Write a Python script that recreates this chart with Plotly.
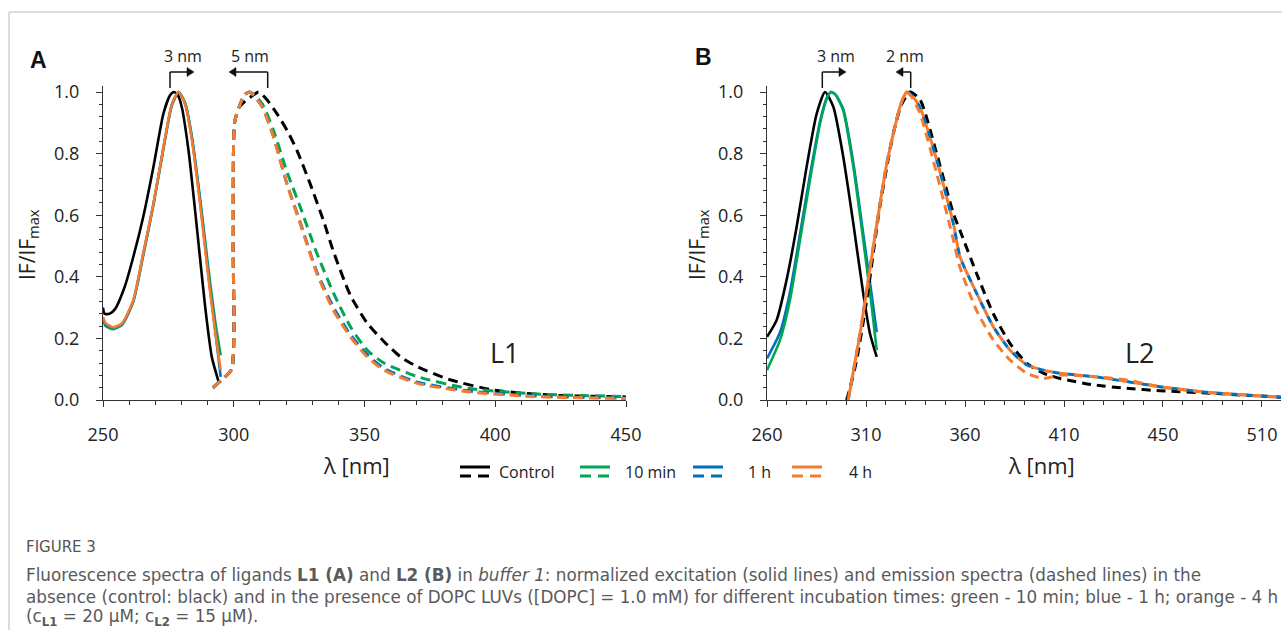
import plotly.graph_objects as go

# ---------------- data ----------------
# Panel A (L1) excitation, solid
A_ex_x = [250, 250.6, 252.5, 254.6, 258.4, 261.6, 265.4, 269.3, 273.1, 275.7, 277.2, 278.6, 280.1, 282.7, 285.9, 289.1, 291.6, 294.2]
A_ex_control = [0.30, 0.28, 0.28, 0.295, 0.37, 0.465, 0.595, 0.757, 0.93, 0.99, 1.0, 0.99, 0.952, 0.81, 0.56, 0.30, 0.14, 0.06]
A_ex2_x = [250, 251, 254, 257.4, 261.6, 265.4, 269.3, 273.1, 276.3, 278.9, 281.4, 284, 287.2, 290.4, 293, 295]
A_ex_10min = [0.26, 0.24, 0.23, 0.245, 0.32, 0.47, 0.635, 0.815, 0.955, 1.0, 0.965, 0.855, 0.65, 0.42, 0.25, 0.145]
A_ex_1h = [0.265, 0.245, 0.235, 0.248, 0.322, 0.474, 0.636, 0.818, 0.958, 1.0, 0.962, 0.85, 0.64, 0.40, 0.22, 0.075]
A_ex_4h = [0.27, 0.25, 0.236, 0.25, 0.325, 0.477, 0.638, 0.82, 0.96, 1.0, 0.96, 0.845, 0.63, 0.39, 0.216, 0.097]

# Panel A (L1) emission, dashed
A_em_ctrl_x = [292, 296, 299.2, 299.8, 300.3, 302, 305, 307.5, 309.5, 312.7, 316.5, 320.4, 324.2, 329.3, 334.4, 338.2, 344.6, 351, 357.4, 363.8, 370.2, 383, 399.5, 421, 450]
A_em_control = [0.04, 0.07, 0.10, 0.5, 0.90, 0.95, 0.975, 0.99, 1.0, 0.975, 0.93, 0.875, 0.81, 0.70, 0.58, 0.48, 0.34, 0.25, 0.19, 0.14, 0.108, 0.065, 0.032, 0.016, 0.01]
A_em_x = [292, 296, 299.2, 299.8, 300.3, 302, 304, 306, 308, 311, 315, 320.4, 325.5, 331.8, 338.2, 344.6, 351, 357.4, 370.2, 389.3, 414.8, 450]
A_em_10min = [0.04, 0.07, 0.10, 0.5, 0.90, 0.95, 0.99, 1.0, 0.99, 0.96, 0.88, 0.74, 0.625, 0.476, 0.346, 0.238, 0.162, 0.12, 0.076, 0.038, 0.02, 0.011]
A_em_1h = [0.04, 0.07, 0.10, 0.5, 0.90, 0.95, 0.99, 1.0, 0.985, 0.95, 0.86, 0.70, 0.575, 0.415, 0.30, 0.212, 0.148, 0.103, 0.058, 0.030, 0.013, 0.006]
A_em_4h = [0.04, 0.07, 0.10, 0.5, 0.90, 0.95, 0.99, 1.0, 0.985, 0.95, 0.86, 0.70, 0.57, 0.41, 0.29, 0.205, 0.14, 0.097, 0.054, 0.027, 0.011, 0.005]

# Panel B (L2) excitation, solid
B_ex_ctrl_x = [260, 264.9, 269.9, 275, 280, 285.1, 289.3, 293.5, 298.5, 303.6, 308.6, 312, 315.4]
B_ex_control = [0.205, 0.26, 0.39, 0.563, 0.757, 0.93, 1.0, 0.952, 0.79, 0.573, 0.346, 0.216, 0.14]
B_ex_x = [260, 266.6, 271.6, 276.7, 281.7, 286.8, 290, 292.3, 294.5, 298.5, 303.6, 308.6, 312.9, 315.4]
B_ex_10min = [0.097, 0.195, 0.325, 0.52, 0.714, 0.898, 0.975, 1.0, 0.992, 0.94, 0.757, 0.52, 0.303, 0.162]
B_ex_1h = [0.135, 0.22, 0.35, 0.54, 0.73, 0.905, 0.978, 1.0, 0.992, 0.945, 0.77, 0.54, 0.34, 0.22]

# Panel B (L2) emission, dashed
B_em_ctrl_x = [300.2, 302, 305.3, 310.4, 317, 323.8, 328, 332.2, 337.3, 345.7, 354.1, 357.5, 365.9, 374.3, 382.7, 391.2, 399.5, 408, 424.8, 441.7, 458.5, 483.7, 520]
B_em_control = [0.0, 0.04, 0.13, 0.325, 0.628, 0.866, 0.96, 1.0, 0.975, 0.80, 0.606, 0.55, 0.41, 0.28, 0.184, 0.119, 0.087, 0.07, 0.049, 0.038, 0.03, 0.022, 0.009]
B_em_x = [301, 307, 313.7, 320.5, 327.2, 330.5, 333, 337.3, 345.7, 354.1, 357.5, 365.9, 374.3, 382.7, 391.2, 399.5, 408, 424.8, 441.7, 458.5, 483.7, 520]
B_em_1h = [0.0, 0.216, 0.498, 0.768, 0.952, 1.0, 0.99, 0.95, 0.78, 0.573, 0.465, 0.346, 0.238, 0.162, 0.114, 0.097, 0.087, 0.076, 0.06, 0.043, 0.024, 0.009]
B_em_10min = [0.0, 0.216, 0.498, 0.768, 0.952, 1.0, 0.99, 0.95, 0.78, 0.573, 0.465, 0.346, 0.238, 0.162, 0.114, 0.097, 0.087, 0.076, 0.06, 0.043, 0.024, 0.009]
B_em_4h = [0.0, 0.216, 0.498, 0.768, 0.952, 1.0, 0.985, 0.93, 0.736, 0.52, 0.43, 0.29, 0.195, 0.13, 0.087, 0.07, 0.081, 0.076, 0.065, 0.043, 0.024, 0.009]

A_xticks = [250, 300, 350, 400, 450]
B_xticks = [260, 310, 360, 410, 460, 510]
B_xticktext = ["260", "310", "360", "410", "450", "510"]
y_ticks = [0.0, 0.2, 0.4, 0.6, 0.8, 1.0]
legend_names = ["Control", "10 min", "1 h", "4 h"]

# ---------------- styling ----------------
BLACK = "#000000"
GREEN = "#00A651"
BLUE = "#0070C0"
ORANGE = "#F47B30"
FONT = "Open Sans"
W, H = 1282, 630


def px(x):
    return x / W


def py(y):
    return 1 - y / H


fig = go.Figure()


def add(x, y, color, xa, ya, dash="solid", width=2.6):
    fig.add_trace(go.Scatter(x=x, y=y, mode="lines", xaxis=xa, yaxis=ya,
                             line=dict(color=color, width=width, dash=dash,
                                       shape="spline", smoothing=0.6),
                             showlegend=False, hoverinfo="skip"))


DA = "10px,6px"
DB = "9px,6px"
DB_off = "0px,7.5px,7.5px,0px"

# Panel A
add(A_ex_x, A_ex_control, BLACK, "x", "y")
add(A_ex2_x, A_ex_10min, GREEN, "x", "y")
add(A_ex2_x, A_ex_1h, BLUE, "x", "y")
add(A_ex2_x, A_ex_4h, ORANGE, "x", "y")
add(A_em_ctrl_x, A_em_control, BLACK, "x", "y", DA, 3)
add(A_em_x, A_em_10min, GREEN, "x", "y", DA, 3)
add(A_em_x, A_em_1h, BLUE, "x", "y", DA, 3)
add(A_em_x, A_em_4h, ORANGE, "x", "y", DA, 3)

# Panel B
add(B_ex_ctrl_x, B_ex_control, BLACK, "x2", "y2")
add(B_ex_x, B_ex_1h, BLUE, "x2", "y2")
add(B_ex_x, B_ex_10min, GREEN, "x2", "y2")
add(B_em_ctrl_x, B_em_control, BLACK, "x2", "y2", DB, 3)
add(B_em_x, B_em_1h, BLUE, "x2", "y2", "7.5px,7.5px", 3)
add(B_em_x, B_em_10min, ORANGE, "x2", "y2", DB_off, 3)
add(B_em_x, B_em_4h, ORANGE, "x2", "y2", DB, 3)

Y_TOP = 400 - 1.02 * 308
axis_common = dict(showgrid=False, zeroline=False, showline=True, linecolor="#333",
                   linewidth=1, ticks="outside", ticklen=6, tickwidth=1, tickcolor="#333",
                   automargin=False,
                   tickfont=dict(family=FONT, size=18, color="#222"))

fig.update_layout(
    width=W, height=H, margin=dict(l=0, r=0, t=0, b=0, pad=0, autoexpand=False),
    paper_bgcolor="white", plot_bgcolor="white",
    font=dict(family=FONT, color="#222"),
    xaxis=dict(domain=[px(103), px(626)], range=[250, 450], tickmode="array",
               tickvals=A_xticks, anchor="y", ticklabelstandoff=12,
               minor=dict(ticks="outside", ticklen=4, tickmode="linear", tick0=250, dtick=10,
                          tickcolor="#333", showgrid=False), **axis_common),
    yaxis=dict(domain=[py(400), py(Y_TOP)], range=[0, 1.02], tickmode="array",
               tickvals=y_ticks, ticktext=["%.1f" % v for v in y_ticks], anchor="x",
               ticklabelstandoff=13,
               minor=dict(ticks="outside", ticklen=3, tickmode="linear", tick0=0, dtick=0.04,
                          tickcolor="#333", showgrid=False), **axis_common),
    xaxis2=dict(domain=[px(767), px(1281)], range=[260, 519.6], tickmode="array",
                tickvals=B_xticks, ticktext=B_xticktext, anchor="y2", ticklabelstandoff=12,
                minor=dict(ticks="outside", ticklen=4, tickmode="linear", tick0=260, dtick=10,
                           tickcolor="#333", showgrid=False), **axis_common),
    yaxis2=dict(domain=[py(400), py(Y_TOP)], range=[0, 1.02], tickmode="array",
                tickvals=y_ticks, ticktext=["%.1f" % v for v in y_ticks], anchor="x2",
                ticklabelstandoff=13,
                minor=dict(ticks="outside", ticklen=3, tickmode="linear", tick0=0, dtick=0.04,
                           tickcolor="#333", showgrid=False), **axis_common),
)

shapes = []
annotations = []


def line(x0, y0, x1, y1, color="#222", width=1.5, dash="solid"):
    shapes.append(dict(type="line", xref="paper", yref="paper", x0=px(x0), y0=py(y0),
                       x1=px(x1), y1=py(y1), line=dict(color=color, width=width, dash=dash)))


def tri(tipx, tipy, direction):
    b = tipx - 7 if direction > 0 else tipx + 7
    path = "M %f %f L %f %f L %f %f Z" % (px(tipx), py(tipy), px(b), py(tipy - 4.5), px(b), py(tipy + 4.5))
    shapes.append(dict(type="path", xref="paper", yref="paper", path=path,
                       fillcolor="#111", line=dict(color="#111", width=0.5)))


def text(x, y, s, size=17, color="#222", family=FONT, xanchor="center", angle=0):
    annotations.append(dict(x=px(x), y=py(y), xref="paper", yref="paper", text=s,
                            showarrow=False, xanchor=xanchor, yanchor="middle",
                            textangle=angle, font=dict(family=family, size=size, color=color)))


# frame
line(9, 12, 1282, 12, "#d0d0d0", 1.5)
line(9, 12, 9, 630, "#d0d0d0", 1.5)

# panel letters
text(38, 60, "<b>A</b>", 23, "#111", "Liberation Sans")
text(703, 57, "<b>B</b>", 23, "#111", "Liberation Sans")

# shift arrows
for vx, tipx, lab, labx in [(170, 194, "3 nm", 183), (267.7, 229, "5 nm", 250),
                            (822.3, 846, "3 nm", 836), (910.7, 896, "2 nm", 905)]:
    line(vx, 88, vx, 72, "#111", 1.5)
    d = 1 if tipx > vx else -1
    line(vx, 72, tipx - 6 * d, 72, "#111", 1.5)
    tri(tipx, 72, d)
    text(labx, 56, lab, 16)

# axis titles
text(28, 245, "IF/IF<sub>max</sub>", 21, angle=-90)
text(698, 245, "IF/IF<sub>max</sub>", 21, angle=-90)
text(356, 465, "λ [nm]", 22)
text(1041, 465, "λ [nm]", 22)

# L1 / L2
text(505, 352, "L1", 27)
text(1140, 352, "L2", 27)

# custom legend (solid over dashed)
for (x0, x1, tx, col), name in zip([(460, 490, 497, BLACK), (580, 610, 623, GREEN),
                                    (693, 723, 746, BLUE), (792, 822, 847, ORANGE)], legend_names):
    line(x0, 467, x1, 467, col, 3)
    line(x0, 476, x1, 476, col, 3, "11px,7px")
    text(tx, 472, name, 16, xanchor="left")

# caption
CAP = "DejaVu Sans"
text(24, 547, "FIGURE 3", 15, "#555", CAP, xanchor="left")
text(24, 575, "Fluorescence spectra of ligands <b>L1 (A)</b> and <b>L2 (B)</b> in <i>buffer 1</i>: "
              "normalized excitation (solid lines) and emission spectra (dashed lines) in the",
     16.8, "#5a5a5a", CAP, xanchor="left")
text(24, 597, "absence (control: black) and in the presence of DOPC LUVs ([DOPC] = 1.0 mM) for different "
              "incubation times: green - 10 min; blue - 1 h; orange - 4 h",
     16.8, "#5a5a5a", CAP, xanchor="left")
text(24, 617, "(c<sub><b>L1</b></sub> = 20 μM; c<sub><b>L2</b></sub> = 15 μM).",
     16.8, "#5a5a5a", CAP, xanchor="left")

fig.update_layout(shapes=shapes, annotations=annotations)
fig.write_html("out.html", config={"displayModeBar": False, "staticPlot": True},
               post_script="document.body.style.margin='0';document.body.style.overflow='hidden';")
